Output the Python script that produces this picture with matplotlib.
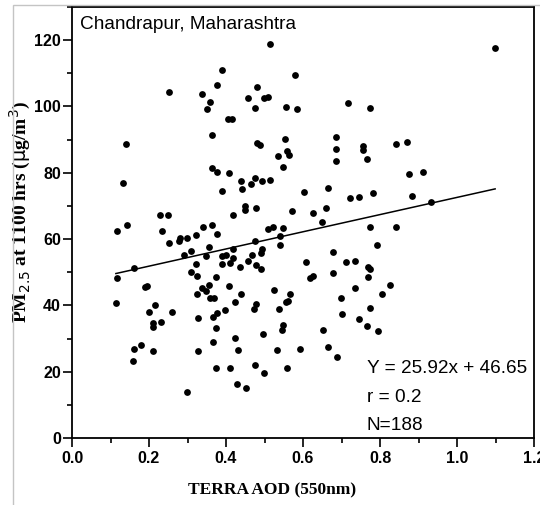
import matplotlib
matplotlib.use('Agg')
import matplotlib.pyplot as plt
from matplotlib.patches import Rectangle
from matplotlib.ticker import MultipleLocator
import numpy as np

# TERRA AOD (550nm) vs PM2.5 at 1100 hrs, Chandrapur
aod = [0.253, 0.337, 0.350, 0.140, 0.132, 0.229, 0.250,
       0.514, 0.389, 0.579, 0.376, 0.480, 0.358, 0.458, 0.499, 0.508, 0.475, 0.556,
       0.584, 0.404, 0.416, 0.363, 0.480, 0.488, 0.553, 0.536, 0.559, 0.564, 0.547,
       0.363, 0.376, 0.409, 0.438, 0.442, 0.464, 0.475, 0.493, 0.514, 0.389, 0.417,
       0.449, 0.449, 0.478, 0.571,
       0.716, 0.774, 0.686, 0.686, 0.686, 0.755, 0.757, 0.765, 0.842, 0.603, 0.666,
       0.722, 0.745, 0.781, 0.625, 0.660,
       1.099, 0.869, 0.876, 0.912, 0.882, 0.932,
       0.118, 0.144, 0.233, 0.252, 0.278, 0.281, 0.298, 0.322, 0.341, 0.161, 0.116,
       0.291, 0.308, 0.321, 0.308, 0.324, 0.190, 0.194, 0.324, 0.114, 0.216, 0.200,
       0.259, 0.211, 0.211, 0.230, 0.326, 0.162, 0.178, 0.211, 0.159, 0.326, 0.298,
       0.363, 0.376, 0.510, 0.521, 0.549, 0.540, 0.540, 0.475, 0.357, 0.348, 0.417,
       0.389, 0.399, 0.493, 0.491, 0.467, 0.458, 0.419, 0.410, 0.389, 0.436, 0.478,
       0.491, 0.608, 0.374, 0.357, 0.337, 0.348, 0.358, 0.369, 0.409, 0.438, 0.424,
       0.525, 0.566, 0.556, 0.562, 0.478, 0.474, 0.538, 0.397, 0.376, 0.365, 0.374,
       0.547, 0.545, 0.497, 0.423, 0.365, 0.432, 0.532, 0.592, 0.374, 0.410, 0.475,
       0.499, 0.559, 0.429, 0.452,
       0.650, 0.774, 0.841, 0.793, 0.679, 0.711, 0.735, 0.768, 0.774, 0.679, 0.768,
       0.618, 0.627, 0.826, 0.735, 0.804, 0.698, 0.774, 0.702, 0.745, 0.765, 0.794,
       0.653, 0.664, 0.689]
pm25 = [104.3, 103.9, 99.1, 88.6, 76.8, 67.4, 67.4,
        118.9, 111.0, 109.4, 106.5, 106.0, 101.4, 102.7, 102.7, 102.9, 99.4, 99.7,
        99.1, 96.2, 96.2, 91.4, 89.0, 88.3, 90.3, 85.1, 86.6, 85.5, 81.7,
        81.4, 80.1, 79.8, 77.5, 75.2, 76.5, 78.5, 77.6, 77.9, 74.6, 67.3,
        69.9, 68.9, 69.4, 68.6,
        101.1, 99.4, 90.8, 87.3, 83.7, 88.0, 87.0, 84.2, 88.6, 74.3, 75.5,
        72.3, 72.8, 74.0, 68.0, 69.5,
        117.7, 89.3, 79.5, 80.1, 72.9, 71.2,
        62.5, 64.2, 62.5, 58.7, 59.5, 60.3, 60.2, 61.2, 63.7, 51.2, 48.4,
        55.2, 56.3, 52.6, 50.2, 48.9, 45.4, 45.8, 43.3, 40.8, 40.0, 38.1,
        38.1, 34.8, 33.5, 35.1, 36.1, 26.7, 28.0, 26.2, 23.1, 26.2, 14.0,
        64.2, 61.5, 62.9, 63.5, 63.3, 61.0, 58.2, 59.3, 57.7, 54.9, 57.0,
        54.8, 55.2, 57.0, 55.7, 55.2, 53.4, 54.2, 52.9, 52.4, 51.6, 52.2,
        50.9, 53.2, 48.6, 46.2, 45.2, 44.2, 42.3, 42.1, 45.8, 43.3, 41.0,
        44.5, 43.3, 41.1, 41.3, 40.5, 38.8, 38.9, 38.5, 37.6, 36.5, 33.2,
        34.2, 32.7, 31.4, 30.2, 28.9, 26.4, 26.4, 26.9, 21.1, 21.1, 22.1,
        19.6, 21.1, 16.3, 15.1,
        65.1, 63.7, 63.7, 58.2, 56.2, 53.2, 53.4, 51.6, 50.9, 49.9, 48.6,
        48.2, 48.9, 46.2, 45.2, 43.3, 42.1, 39.1, 37.3, 35.8, 33.9, 32.4,
        32.5, 27.5, 24.3]

slope = 25.92
intercept = 46.65
site = 'Chandrapur, Maharashtra'
stats = ['Y = 25.92x + 46.65', 'r = 0.2', 'N=188']

fig = plt.figure(figsize=(5.4, 5.05), dpi=100)
ax = fig.add_axes([72 / 540, 1 - 438 / 505, 462 / 540, 431 / 505])

# light grey frame of the original screenshot
fig.patches.append(Rectangle((13 / 540, -0.02), 1.0, 1 - 5 / 505 + 0.02,
                             transform=fig.transFigure, fill=False,
                             edgecolor='#c4c4c4', linewidth=1.0))

ax.scatter(aod, pm25, s=24, color='black', linewidths=0, zorder=3)

xl = np.array([min(aod), max(aod)])
ax.plot(xl, slope * xl + intercept, color='black', linewidth=1.1, zorder=2)

ax.set_xlim(0, 1.2)
ax.set_ylim(0, 130)
ax.xaxis.set_major_locator(MultipleLocator(0.2))
ax.xaxis.set_minor_locator(MultipleLocator(0.1))
ax.yaxis.set_major_locator(MultipleLocator(20))
ax.yaxis.set_minor_locator(MultipleLocator(10))
ax.set_xticklabels([f'{v:.1f}' for v in ax.get_xticks()])

ax.tick_params(which='major', direction='out', length=6.5, width=1.2)
ax.tick_params(which='minor', direction='out', length=3.8, width=1.2)
ax.tick_params(axis='x', which='major', pad=3)
ax.tick_params(axis='y', which='major', pad=1.5)
for lab in ax.get_xticklabels() + ax.get_yticklabels():
    lab.set_fontfamily('Liberation Sans')
    lab.set_fontweight('bold')
    lab.set_fontsize(11.5)
for sp in ax.spines.values():
    sp.set_linewidth(1.3)

plt.rcParams['mathtext.fontset'] = 'custom'
plt.rcParams['mathtext.rm'] = 'Liberation Serif:bold'
plt.rcParams['mathtext.it'] = 'Liberation Serif:bold'

ax.set_xlabel('TERRA AOD (550nm)', fontfamily='Liberation Serif',
              fontweight='bold', fontsize=12.5)
ax.xaxis.set_label_coords(0.433, -0.103)
ax.set_ylabel(r'PM$_{\mathrm{2.5}}$ at 1100 hrs ($\mathrm{\mu}$g/m$^{\mathrm{3}}$)',
              fontfamily='Liberation Serif', fontweight='bold', fontsize=14)
ax.yaxis.set_label_coords(-0.085, 0.524)

ax.text(0.017, 0.978, site, transform=ax.transAxes, ha='left', va='top',
        fontfamily='Liberation Sans', fontsize=13.7)
for i, s in enumerate(stats):
    ax.text(0.638, [0.162, 0.095, 0.030][i], s, transform=ax.transAxes,
            ha='left', va='center', fontfamily='Liberation Sans', fontsize=13.7)

fig.savefig('out.png', dpi=100)
